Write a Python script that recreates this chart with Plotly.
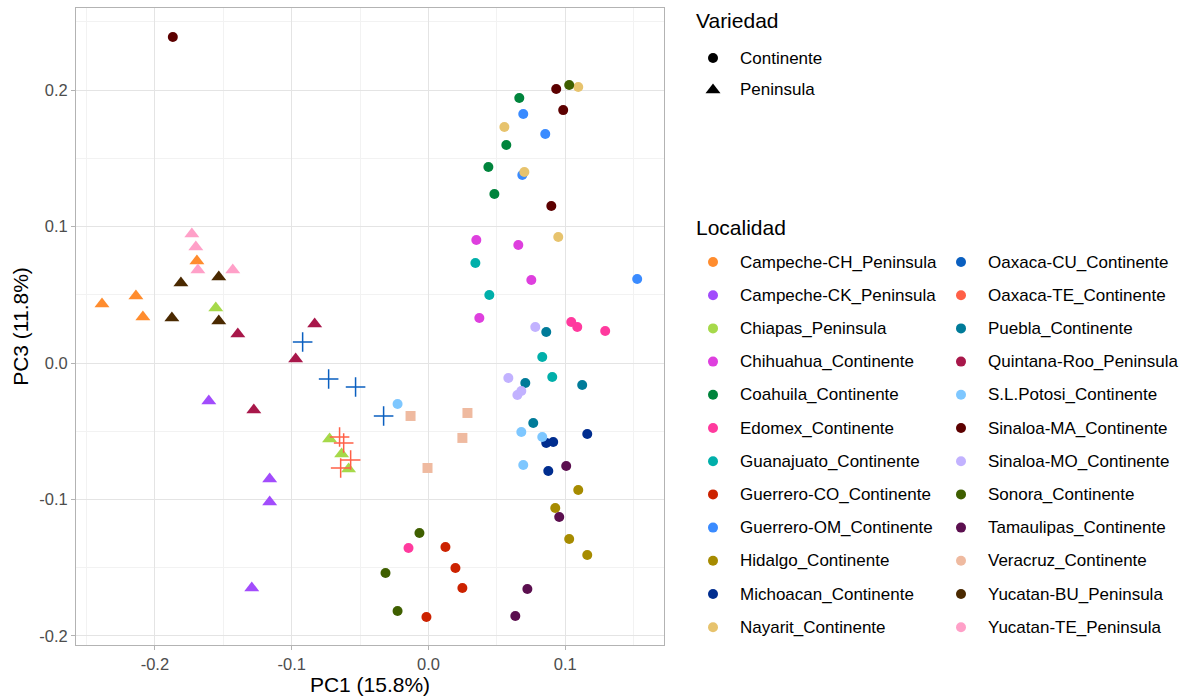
import plotly.graph_objects as go

W, H = 1185, 698

localidades = [
    "Campeche-CH_Peninsula", "Campeche-CK_Peninsula", "Chiapas_Peninsula",
    "Chihuahua_Continente", "Coahuila_Continente", "Edomex_Continente",
    "Guanajuato_Continente", "Guerrero-CO_Continente", "Guerrero-OM_Continente",
    "Hidalgo_Continente", "Michoacan_Continente", "Nayarit_Continente",
    "Oaxaca-CU_Continente", "Oaxaca-TE_Continente", "Puebla_Continente",
    "Quintana-Roo_Peninsula", "S.L.Potosi_Continente", "Sinaloa-MA_Continente",
    "Sinaloa-MO_Continente", "Sonora_Continente", "Tamaulipas_Continente",
    "Veracruz_Continente", "Yucatan-BU_Peninsula", "Yucatan-TE_Peninsula",
]

colores = [
    "#FF8C2E", "#A24CFC", "#A6D94A", "#DE3FDE", "#00843C", "#FF3A9E",
    "#00AFAA", "#CC2200", "#3A8BFF", "#A68B00", "#002D8F", "#E7C36D",
    "#0A5FC0", "#FF6047", "#007B99", "#A8174A", "#7EC7FF", "#5C0000",
    "#C2B2FF", "#3F5F00", "#5B0F4F", "#EFBAA0", "#4A2900", "#FFA0C8",
]

# marker symbol per group (as in the reference)
simbolos = [
    "triangle-up", "triangle-up", "triangle-up", "circle", "circle", "circle",
    "circle", "circle", "circle", "circle", "circle", "circle",
    "cross-thin", "cross-thin", "circle", "triangle-up", "circle", "circle",
    "circle", "circle", "circle", "square", "triangle-up", "triangle-up",
]

pc1 = {
    "Campeche-CH_Peninsula": [-0.2387, -0.2139, -0.2088, -0.1693],
    "Campeche-CK_Peninsula": [-0.1606, -0.1161, -0.1161, -0.1292],
    "Chiapas_Peninsula": [-0.1555, -0.0723, -0.0635, -0.0584],
    "Chihuahua_Continente": [0.0350, 0.0657, 0.0752, 0.0372],
    "Coahuila_Continente": [0.0664, 0.0569, 0.0438, 0.0482],
    "Edomex_Continente": [0.1044, 0.1088, 0.1292, -0.0146],
    "Guanajuato_Continente": [0.0343, 0.0445, 0.0832, 0.0905],
    "Guerrero-CO_Continente": [0.0124, 0.0197, 0.0248, -0.0015],
    "Guerrero-OM_Continente": [0.0693, 0.0854, 0.0686, 0.1526],
    "Hidalgo_Continente": [0.1095, 0.0927, 0.1029, 0.1161],
    "Michoacan_Continente": [0.0861, 0.0912, 0.1161, 0.0876],
    "Nayarit_Continente": [0.1095, 0.0555, 0.0701, 0.0949],
    "Oaxaca-CU_Continente": [-0.0920, -0.0730, -0.0533, -0.0328],
    "Oaxaca-TE_Continente": [-0.0650, -0.0620, -0.0569, -0.0642],
    "Puebla_Continente": [0.0861, 0.0708, 0.1124, 0.0766],
    "Quintana-Roo_Peninsula": [-0.0832, -0.1394, -0.0971, -0.1277],
    "S.L.Potosi_Continente": [-0.0226, 0.0679, 0.0832, 0.0693],
    "Sinaloa-MA_Continente": [-0.1869, 0.0934, 0.0985, 0.0898],
    "Sinaloa-MO_Continente": [0.0781, 0.0584, 0.0650, 0.0679],
    "Sonora_Continente": [0.1029, -0.0066, -0.0314, -0.0226],
    "Tamaulipas_Continente": [0.1007, 0.0956, 0.0723, 0.0635],
    "Veracruz_Continente": [-0.0131, 0.0285, 0.0248, -0.0007],
    "Yucatan-BU_Peninsula": [-0.1810, -0.1533, -0.1876, -0.1533],
    "Yucatan-TE_Peninsula": [-0.1730, -0.1701, -0.1686, -0.1431],
}

pc3 = {
    "Campeche-CH_Peninsula": [0.0432, 0.0491, 0.0337, 0.0747],
    "Campeche-CK_Peninsula": [-0.0278, -0.0850, -0.1018, -0.1648],
    "Chiapas_Peninsula": [0.0403, -0.0557, -0.0667, -0.0777],
    "Chihuahua_Continente": [0.0901, 0.0864, 0.0608, 0.0330],
    "Coahuila_Continente": [0.1941, 0.1597, 0.1436, 0.1238],
    "Edomex_Continente": [0.0300, 0.0264, 0.0234, -0.1355],
    "Guanajuato_Continente": [0.0733, 0.0498, 0.0044, -0.0103],
    "Guerrero-CO_Continente": [-0.1348, -0.1502, -0.1648, -0.1861],
    "Guerrero-OM_Continente": [0.1824, 0.1678, 0.1377, 0.0615],
    "Hidalgo_Continente": [-0.0930, -0.1062, -0.1289, -0.1407],
    "Michoacan_Continente": [-0.0586, -0.0579, -0.0520, -0.0791],
    "Nayarit_Continente": [0.2022, 0.1729, 0.1399, 0.0923],
    "Oaxaca-CU_Continente": [0.0154, -0.0117, -0.0176, -0.0388],
    "Oaxaca-TE_Continente": [-0.0542, -0.0586, -0.0711, -0.0769],
    "Puebla_Continente": [0.0227, -0.0147, -0.0161, -0.0440],
    "Quintana-Roo_Peninsula": [0.0286, 0.0212, 0.0029, -0.0344],
    "S.L.Potosi_Continente": [-0.0300, -0.0505, -0.0542, -0.0747],
    "Sinaloa-MA_Continente": [0.2388, 0.2007, 0.1853, 0.1150],
    "Sinaloa-MO_Continente": [0.0264, -0.0110, -0.0234, -0.0205],
    "Sonora_Continente": [0.2037, -0.1245, -0.1538, -0.1817],
    "Tamaulipas_Continente": [-0.0755, -0.1128, -0.1656, -0.1853],
    "Veracruz_Continente": [-0.0388, -0.0366, -0.0549, -0.0769],
    "Yucatan-BU_Peninsula": [0.0586, 0.0630, 0.0330, 0.0308],
    "Yucatan-TE_Peninsula": [0.0945, 0.0850, 0.0681, 0.0681],
}

variedades = ["Continente", "Peninsula"]
variedad_simbolos = ["circle", "triangle-up"]

x_ticks = [-0.2, -0.1, 0.0, 0.1]
x_ticktext = ["-0.2", "-0.1", "0.0", "0.1"]
y_ticks = [-0.2, -0.1, 0.0, 0.1, 0.2]
y_ticktext = ["-0.2", "-0.1", "0.0", "0.1", "0.2"]

FONT = "Liberation Sans, Arial, sans-serif"

# panel placement (pixels)
PL, PR, PT, PB = 76, 664, 8, 645

fig = go.Figure()

size_map = {"circle": 10, "triangle-up": 13, "square": 10, "cross-thin": 14}

for loc, col, sym in zip(localidades, colores, simbolos):
    fig.add_trace(go.Scatter(
        x=pc1[loc], y=pc3[loc], mode="markers", name=loc, showlegend=False,
        marker=dict(color=col, symbol=sym, size=size_map[sym],
                    line=dict(width=1.5 if sym == "cross-thin" else 0, color=col)),
    ))

grid_major = "#E4E4E4"
grid_minor = "#F2F2F2"

fig.update_layout(
    width=W, height=H,
    margin=dict(l=0, r=0, t=0, b=0),
    paper_bgcolor="white", plot_bgcolor="rgba(0,0,0,0)",
    font=dict(family=FONT, color="black"),
    showlegend=False,
    xaxis=dict(
        domain=[PL / W, PR / W], range=[-0.2577, 0.1722],
        tickvals=x_ticks, ticktext=x_ticktext,
        tickfont=dict(size=16.5, color="#4D4D4D"),
        ticks="outside", ticklen=4, tickcolor="#B3B3B3", tickwidth=1,
        showgrid=True, gridcolor=grid_major, gridwidth=1,
        minor=dict(dtick=0.05, tick0=0, showgrid=True, gridcolor=grid_minor, gridwidth=1),
        zeroline=False, showline=True, linecolor="#B3B3B3", linewidth=1, mirror=True,
        title=dict(text="PC1 (15.8%)", font=dict(size=21, color="black"), standoff=4),
    ),
    yaxis=dict(
        domain=[1 - PB / H, 1 - PT / H], range=[-0.2066, 0.2601],
        tickvals=y_ticks, ticktext=y_ticktext,
        tickfont=dict(size=16.5, color="#4D4D4D"),
        ticks="outside", ticklen=4, tickcolor="#B3B3B3", tickwidth=1,
        showgrid=True, gridcolor=grid_major, gridwidth=1,
        minor=dict(dtick=0.05, tick0=0, showgrid=True, gridcolor=grid_minor, gridwidth=1),
        zeroline=False, showline=True, linecolor="#B3B3B3", linewidth=1, mirror=True,
        title=dict(text="PC3 (11.8%)", font=dict(size=21, color="black"), standoff=4),
    ),
    xaxis2=dict(domain=[0, 1], range=[0, W], visible=False, anchor="y2"),
    yaxis2=dict(domain=[0, 1], range=[H, 0], visible=False, anchor="x2"),
)

annotations = []

def add_text(px, py, text, size, anchor="left"):
    annotations.append(dict(
        x=px / W, y=1 - py / H, xref="paper", yref="paper", text=text,
        showarrow=False, xanchor=anchor, yanchor="middle", borderpad=0,
        font=dict(size=size, color="black", family=FONT),
    ))

# Legend: Variedad
add_text(695, 20, "Variedad", 21)
var_y = [58, 90]
for v, s, yy in zip(variedades, variedad_simbolos, var_y):
    fig.add_trace(go.Scatter(
        x=[713], y=[yy], xaxis="x2", yaxis="y2", mode="markers",
        marker=dict(color="black", symbol=s, size=10 if s == "circle" else 13),
        showlegend=False, hoverinfo="skip",
    ))
    add_text(739, yy, v, 17)

# Legend: Localidad (two columns of 12)
add_text(695, 227, "Localidad", 21)
row0, dy = 262, 33.2
for i, (loc, col) in enumerate(zip(localidades, colores)):
    c, r = divmod(i, 12)
    kx = 713 if c == 0 else 961
    tx = 739 if c == 0 else 987
    yy = row0 + r * dy
    fig.add_trace(go.Scatter(
        x=[kx], y=[yy], xaxis="x2", yaxis="y2", mode="markers",
        marker=dict(color=col, symbol="circle", size=10),
        showlegend=False, hoverinfo="skip",
    ))
    add_text(tx, yy, loc, 17)

fig.update_layout(annotations=annotations)

fig.write_html("out.html")
